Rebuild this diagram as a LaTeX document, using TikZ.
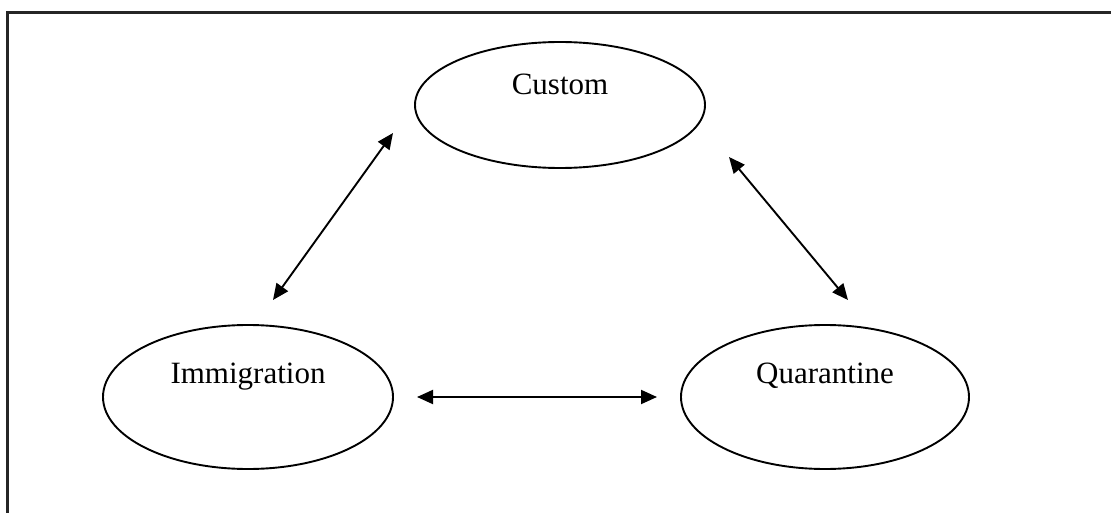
\documentclass[tikz,border=0pt]{standalone}
\usepackage{fontspec}
\setmainfont{Liberation Serif}
\usetikzlibrary{arrows.meta,shapes}

\begin{document}
\begin{tikzpicture}[x=1pt, y=-1pt, line width=1.9pt, >={Triangle[length=16pt,width=14pt]}]
    \tikzstyle{office}=[ellipse, draw=black, inner sep=0pt, minimum width=290pt, font=\fontsize{31}{37}\selectfont, text height=22pt]
    \useasboundingbox (0,0) rectangle (1111,513);
    % frame, cut at the lower and right edge
    \draw[line width=2.4pt, black!85] (7.5,513) -- (7.5,12.5) -- (1111,12.5);
    \node[office, minimum height=126pt, text depth=42pt] (cus) at (560,105) {Custom};
    \node[office, minimum height=144pt, text depth=50pt] (imm) at (248,397) {Immigration};
    \node[office, minimum height=144pt, text depth=50pt, minimum width=288pt] (qua) at (825,397) {Quarantine};
    \coordinate (ci) at (273,300);
    \coordinate (ic) at (393,133);
    \coordinate (cq) at (729,157);
    \coordinate (qc) at (848,300);
    \coordinate (iq) at (417,397);
    \coordinate (qi) at (657,397);
    \draw[<->] (ci) -- (ic);
    \draw[<->] (cq) -- (qc);
    \draw[<->] (iq) -- (qi);
  \end{tikzpicture}
\end{document}
